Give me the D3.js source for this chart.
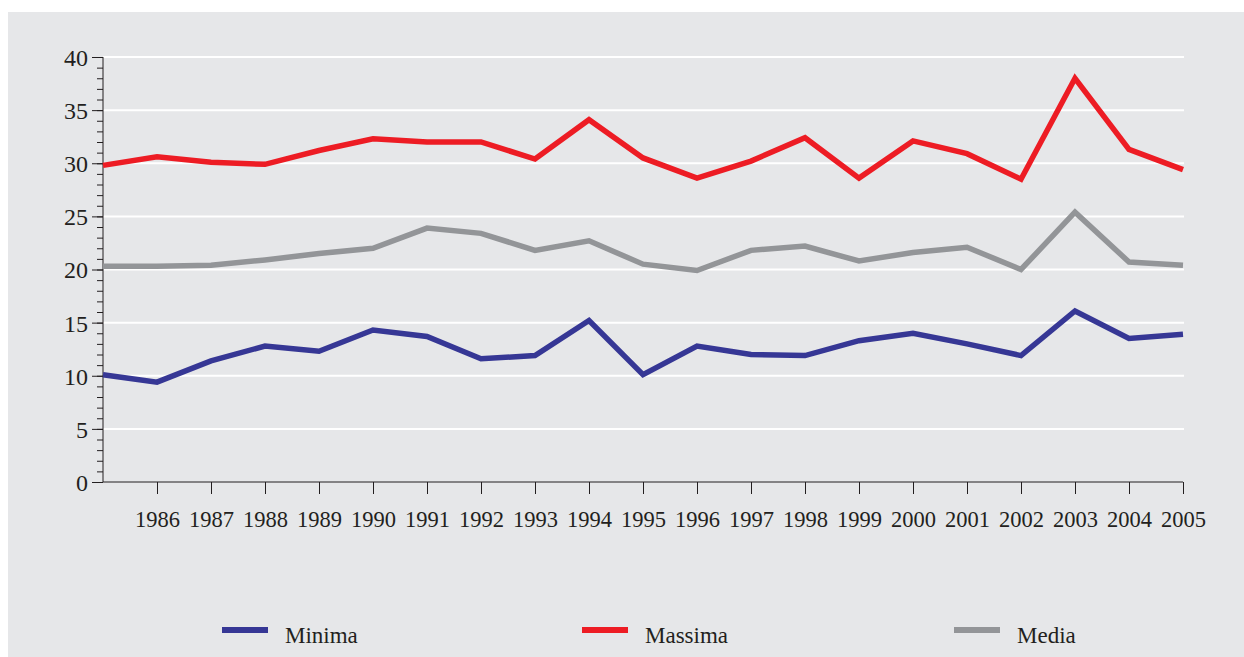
<!DOCTYPE html>
<html>
<head>
<meta charset="utf-8">
<script src="https://cdn.jsdelivr.net/npm/d3@7"></script>
<style>
  body { margin: 0; background: #fff; }
  text { font-family: "Liberation Serif", "Times New Roman", serif; fill: #231f20; }
</style>
</head>
<body>
<div id="chart"></div>
<script>
var years = [1985, 1986, 1987, 1988, 1989, 1990, 1991, 1992, 1993, 1994, 1995,
  1996, 1997, 1998, 1999, 2000, 2001, 2002, 2003, 2004, 2005];
var minima = [10.1, 9.4, 11.4, 12.8, 12.3, 14.3, 13.7, 11.6, 11.9, 15.2, 10.1,
  12.8, 12.0, 11.9, 13.3, 14.0, 13.0, 11.9, 16.1, 13.5, 13.9];
var massima = [29.8, 30.6, 30.1, 29.9, 31.2, 32.3, 32.0, 32.0, 30.4, 34.1, 30.5,
  28.6, 30.2, 32.4, 28.6, 32.1, 30.9, 28.5, 38.0, 31.3, 29.4];
var media = [20.3, 20.3, 20.4, 20.9, 21.5, 22.0, 23.9, 23.4, 21.8, 22.7, 20.5,
  19.9, 21.8, 22.2, 20.8, 21.6, 22.1, 20.0, 25.4, 20.7, 20.4];
var yTicks = [0, 5, 10, 15, 20, 25, 30, 35, 40];
var seriesNames = ["Minima", "Massima", "Media"];
var colors = ["#363795", "#ed1c24", "#939598"];

var width = 1244, height = 657;
var plotLeft = 103, plotRight = 1183, plotTop = 57, plotBottom = 482;

var svg = d3.select("#chart").append("svg")
  .attr("width", width)
  .attr("height", height);

svg.append("rect")
  .attr("x", 8).attr("y", 12)
  .attr("width", width - 8).attr("height", height - 12)
  .attr("fill", "#e6e7e9");

var x = d3.scaleLinear().domain([1985, 2005]).range([plotLeft, plotRight]);
var y = d3.scaleLinear().domain([0, 40]).range([plotBottom, plotTop]);

// gridlines
svg.selectAll(".grid")
  .data(yTicks.filter(d => d > 0))
  .enter().append("line")
  .attr("x1", plotLeft).attr("x2", plotRight + 1)
  .attr("y1", d => y(d)).attr("y2", d => y(d))
  .attr("stroke", "#fff").attr("stroke-width", 2);

// y axis with minor ticks
var yAxis = d3.axisLeft(y).tickValues(d3.range(0, 41, 1))
  .tickSize(6).tickFormat("");
var ya = svg.append("g").attr("transform", "translate(" + plotLeft + ",0)").call(yAxis);
ya.select(".domain").remove();
ya.selectAll("line").attr("stroke", "#231f20");
var yMajor = d3.axisLeft(y).tickValues(yTicks).tickSize(11).tickPadding(4);
var ym = svg.append("g").attr("transform", "translate(" + plotLeft + ",0)").call(yMajor);
ym.select(".domain").attr("stroke", "#231f20").attr("d", "M0," + plotTop + "V" + plotBottom);
ym.selectAll("line").attr("stroke", "#231f20");
ym.selectAll("text").style("font-size", "24px").attr("font-family", null).attr("dy", "0.35em");

// x axis
var xAxis = d3.axisBottom(x).tickValues(years.slice(1)).tickFormat(d3.format("d"))
  .tickSize(12).tickPadding(17);
var xa = svg.append("g").attr("transform", "translate(0," + plotBottom + ")").call(xAxis);
xa.select(".domain").attr("stroke", "#231f20").attr("d", "M" + plotLeft + ",0H" + plotRight);
xa.selectAll("line").attr("stroke", "#231f20");
xa.selectAll("text").style("font-size", "22.5px").attr("font-family", null);

// lines
var line = d3.line().x((d, i) => x(years[i])).y(d => y(d));
[minima, massima, media].forEach(function (s, k) {
  svg.append("path")
    .datum(s)
    .attr("d", line)
    .attr("fill", "none")
    .attr("stroke", colors[k])
    .attr("stroke-width", 5.5)
    .attr("stroke-linejoin", "miter");
});

// legend
var legendX = [222, 582, 954];
var lg = svg.selectAll(".legend")
  .data(seriesNames)
  .enter().append("g")
  .attr("transform", (d, i) => "translate(" + legendX[i] + ",630)");
lg.append("line")
  .attr("x1", 0).attr("x2", 46)
  .attr("stroke", (d, i) => colors[i])
  .attr("stroke-width", 6);
lg.append("text")
  .attr("x", 63).attr("y", 13)
  .style("font-size", "23px")
  .text(d => d);
</script>
</body>
</html>
